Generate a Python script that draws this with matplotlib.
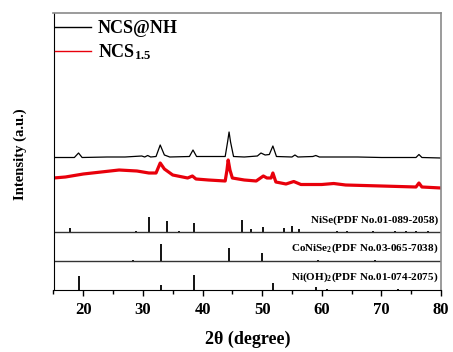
import numpy as np
import matplotlib
matplotlib.use("Agg")
import matplotlib.pyplot as plt
from matplotlib.ticker import MultipleLocator

plt.rcParams.update({
    "font.family": "Liberation Serif",
    "font.weight": "bold",
    "mathtext.fontset": "custom",
    "mathtext.rm": "Liberation Serif:bold",
    "mathtext.it": "Liberation Serif:bold",
    "mathtext.bf": "Liberation Serif:bold",
})

# XRD patterns (2theta, intensity a.u.)
ncs_nh_2t = [15, 18.5, 19.2, 19.8, 24, 27, 29.8, 30.3, 30.8, 31.3, 32.2, 32.9, 33.6, 34.5,
             37.8, 38.4, 39.0, 43.8, 44.2, 44.45, 44.7, 45.2, 47, 49.2, 49.8, 50.5, 51.2,
             51.8, 52.4, 55.0, 55.5, 56.0, 58.5, 59.0, 59.6, 62, 66, 70, 75.8, 76.3, 76.8, 80]
ncs_nh_int = [74.5, 74.5, 79, 74.5, 75, 75, 76, 75, 76.5, 75, 75.5, 87, 77, 75,
              75.5, 82, 75.5, 75.5, 90, 100, 90, 75.5, 75, 76, 79, 77, 77.5,
              86, 75.5, 75, 77, 75, 75.5, 76.5, 75, 75, 75, 74.5, 74.5, 77.5, 74.5, 74]

ncs15_2t = [15, 17, 20, 23, 26, 29, 31, 32.2, 32.9, 33.6, 35, 37.5, 38.3, 38.9, 41, 43.8,
            44.1, 44.3, 44.6, 45, 47, 49, 50.2, 50.8, 51.5, 51.8, 52.3, 54, 55.3, 56.5,
            60, 62, 64, 70, 75.8, 76.3, 76.8, 80]
ncs15_int = [54, 55, 58, 60, 62, 61, 59, 59, 69, 63, 57, 54, 56, 53, 52, 51,
             62, 72, 62, 54, 52, 51, 56, 54, 54, 59, 50, 48, 50.5, 47.5,
             47.5, 48.5, 47, 46, 45, 49, 45, 44]

# reference cards (stick positions / heights)
nise_pos = [17.85, 28.8, 31.0, 34.0, 36.0, 38.6, 46.7, 48.1, 50.1, 53.7, 55.0, 56.2,
            62.5, 64.2, 68.6, 72.3, 74.2, 75.8, 77.8]
nise_h = [4.3, 1.5, 15.3, 11.3, 1.5, 9.3, 12, 3, 5, 4, 6, 3,
          1.5, 1.5, 1.5, 1.5, 1.5, 1.5, 1.5]
conise2_pos = [28.3, 33.0, 44.4, 49.9, 59.4, 69.0]
conise2_h = [1.2, 17, 12.7, 8.3, 1.5, 1.5]
nioh2_pos = [19.3, 33.1, 38.5, 51.9, 59.0, 60.9, 72.8]
nioh2_h = [14, 5, 14.7, 7.3, 3, 1.5, 1.5]

W, H = 453, 352
fig = plt.figure(figsize=(W / 100, H / 100), dpi=100)
ax = fig.add_axes([53.5 / W, 1 - 290 / H, (441 - 53.5) / W, (290 - 13) / H])

# panel baselines (stacked): Ni(OH)2 at 0, CoNiSe2 at 29, NiSe + patterns at 58
base_nioh2, base_conise2, base_main = 0, 29, 58

ax.plot(ncs_nh_2t, np.array(ncs_nh_int) + base_main, color="black", lw=0.9, label="NCS@NH")
ax.plot(ncs15_2t, np.array(ncs15_int) + base_main, color="#e8000b", lw=2.3,
        label="NCS$_{1.5}$")
ax.vlines(nise_pos, base_main, np.array(nise_h) + base_main, color="black", lw=1.3)
ax.vlines(conise2_pos, base_conise2, np.array(conise2_h) + base_conise2, color="black", lw=1.3)
ax.vlines(nioh2_pos, base_nioh2, np.array(nioh2_h) + base_nioh2, color="black", lw=1.3)
ax.axhline(base_main, color="#333333", lw=1.0)
ax.axhline(base_conise2, color="#333333", lw=1.0)
ax.set_xlim(15, 80)
ax.set_ylim(0, 277)

cards = [(base_main + 11.5, "NiSe(PDF No.01-089-2058)"),
         (base_conise2 + 12.5, "CoNiSe$_2$(PDF No.03-065-7038)"),
         (base_nioh2 + 13, "Ni(OH)$_2$(PDF No.01-074-2075)")]
for yy, txt in cards:
    ax.text(79.6, yy, txt, ha="right", va="center", fontsize=8)

ax.set_yticks([])
ax.spines["right"].set_color("#8a8a8a")
ax.spines["top"].set_color("#8a8a8a")
ax.spines["right"].set_linewidth(1.2)
ax.spines["top"].set_linewidth(1.2)

ax.xaxis.set_major_locator(MultipleLocator(10))
ax.xaxis.set_minor_locator(MultipleLocator(5))
ax.tick_params(axis="x", which="major", direction="out", length=4.5, width=1.0,
               labelsize=12, pad=4)
ax.tick_params(axis="x", which="minor", direction="out", length=3, width=1.0)
for lab in ax.get_xticklabels():
    lab.set_fontweight("bold")
ax.set_xlabel("2θ (degree)", fontsize=13, fontweight="bold", labelpad=9)

fig.text(20 / W, 1 - 154 / H, "Intensity (a.u.)", rotation=90, ha="center", va="center",
         fontsize=10.5, fontweight="bold")

leg = ax.legend(loc="upper left", bbox_to_anchor=(-0.014, 1.0), frameon=False,
                fontsize=13, handlelength=2.0, handletextpad=0.35, labelspacing=0.3,
                borderpad=0.4, borderaxespad=0.0)
for line in leg.get_lines():
    line.set_linewidth(1.0)

fig.savefig("out.png", dpi=100)
